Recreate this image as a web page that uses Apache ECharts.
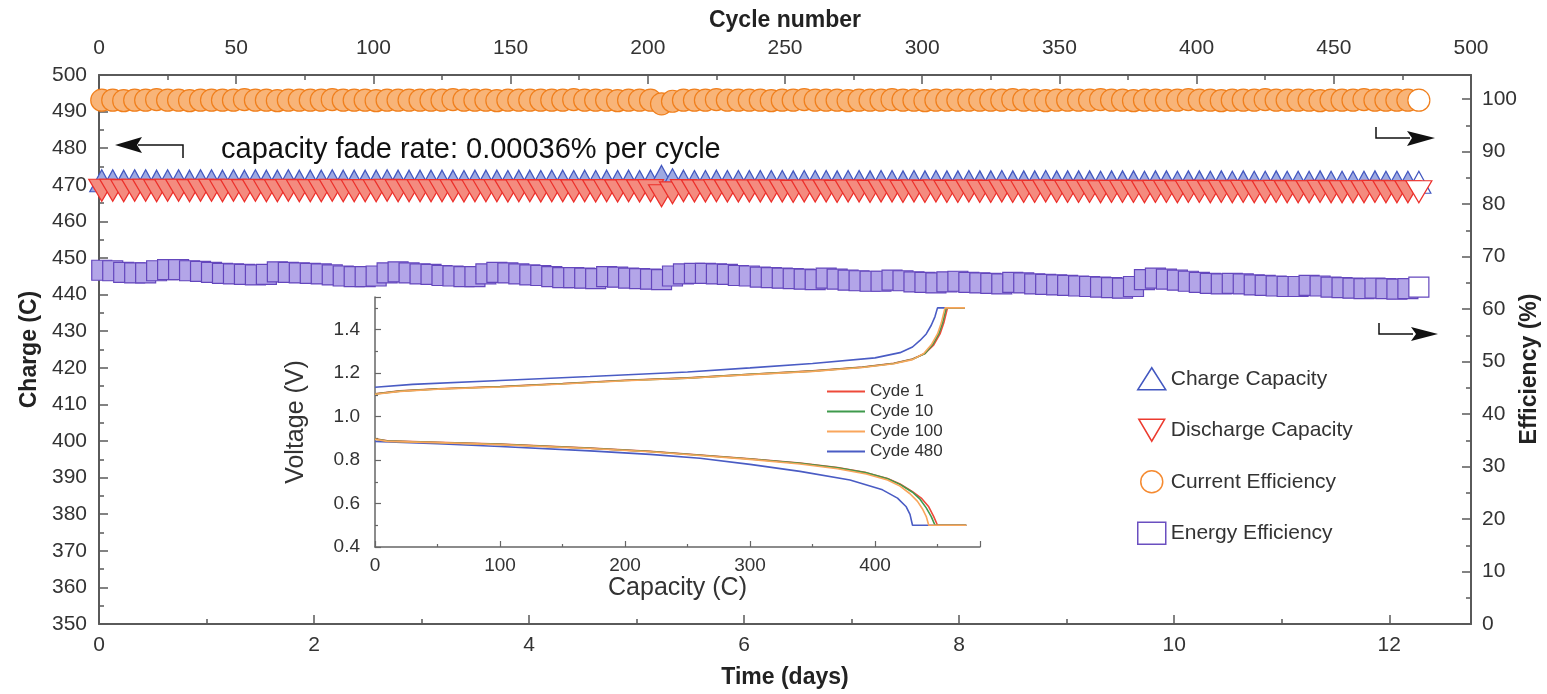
<!DOCTYPE html>
<html><head><meta charset="utf-8">
<script src="https://cdn.jsdelivr.net/npm/echarts@6/dist/echarts.min.js"></script>
<style>html,body{margin:0;padding:0;background:#fff}#c{width:1547px;height:694px}</style>
</head><body><div id="c"></div>
<script>
// ---------- main chart data (sampled every 4 cycles) ----------
const cycles = [1,5,9,13,17,21,25,29,33,37,41,45,49,53,57,61,65,69,73,77,81,85,89,93,97,101,105,109,113,117,
121,125,129,133,137,141,145,149,153,157,161,165,169,173,177,181,185,189,193,197,201,205,209,213,217,221,225,229,233,237,
241,245,249,253,257,261,265,269,273,277,281,285,289,293,297,301,305,309,313,317,321,325,329,333,337,341,345,349,353,357,
361,365,369,373,377,381,385,389,393,397,401,405,409,413,417,421,425,429,433,437,441,445,449,453,457,461,465,469,473,477,481];

const currentEff = [99.8,99.8,99.7,99.8,99.8,99.9,99.8,99.8,99.7,99.8,
99.8,99.8,99.8,99.9,99.8,99.8,99.7,99.8,99.8,99.8,
99.8,99.9,99.8,99.8,99.8,99.7,99.8,99.8,99.8,99.8,
99.8,99.8,99.9,99.8,99.8,99.8,99.7,99.8,99.8,99.8,
99.8,99.8,99.8,99.9,99.8,99.8,99.8,99.7,99.8,99.8,
99.8,99.1,99.6,99.8,99.8,99.8,99.9,99.8,99.8,99.8,
99.8,99.7,99.8,99.8,99.9,99.8,99.8,99.8,99.7,99.8,
99.8,99.8,99.9,99.8,99.8,99.7,99.8,99.8,99.8,99.8,
99.8,99.8,99.8,99.9,99.8,99.8,99.7,99.8,99.8,99.8,
99.8,99.9,99.8,99.8,99.7,99.8,99.8,99.8,99.8,99.9,
99.8,99.8,99.7,99.8,99.8,99.8,99.9,99.8,99.8,99.8,
99.8,99.7,99.8,99.8,99.8,99.9,99.8,99.8,99.8,99.8,
99.8];

const chargeCap = [471.1,471.1,471.0,471.1,471.1,471.0,471.1,471.1,471.0,471.1,
471.1,471.0,471.1,471.0,471.1,471.0,471.0,471.1,471.0,471.0,
471.0,471.1,471.0,471.0,471.0,471.0,471.1,471.0,471.0,471.0,
471.0,471.0,471.0,470.9,471.0,471.0,471.0,470.9,471.0,471.0,
470.9,471.0,471.0,470.9,471.0,470.9,471.0,470.9,471.0,470.9,
471.0,472.3,471.4,471.0,470.9,470.9,471.0,470.9,470.9,470.9,
470.9,470.9,470.9,470.8,470.9,470.9,470.9,470.8,470.9,470.9,
470.8,470.9,470.9,470.8,470.9,470.8,470.9,470.8,470.8,470.9,
470.8,470.8,470.9,470.8,470.8,470.8,470.9,470.8,470.8,470.8,
470.8,470.7,470.8,470.8,470.8,470.7,470.8,470.8,470.7,470.8,
470.8,470.7,470.8,470.7,470.8,470.7,470.7,470.8,470.7,470.7,
470.7,470.8,470.7,470.7,470.7,470.7,470.8,470.7,470.7,470.7,
470.7];

const dischargeCap = [468.5,468.5,468.4,468.5,468.5,468.4,468.5,468.5,468.4,468.5,
468.5,468.4,468.5,468.4,468.5,468.4,468.4,468.5,468.4,468.4,
468.4,468.5,468.4,468.4,468.4,468.4,468.5,468.4,468.4,468.4,
468.4,468.4,468.4,468.3,468.4,468.4,468.4,468.3,468.4,468.4,
468.3,468.4,468.4,468.3,468.4,468.3,468.4,468.3,468.4,468.3,
468.4,467.0,467.8,468.4,468.3,468.3,468.4,468.3,468.3,468.3,
468.3,468.3,468.3,468.2,468.3,468.3,468.3,468.2,468.3,468.3,
468.2,468.3,468.3,468.2,468.3,468.2,468.3,468.2,468.2,468.3,
468.2,468.2,468.3,468.2,468.2,468.2,468.3,468.2,468.2,468.2,
468.2,468.1,468.2,468.2,468.2,468.1,468.2,468.2,468.1,468.2,
468.2,468.1,468.2,468.1,468.2,468.1,468.1,468.2,468.1,468.1,
468.1,468.2,468.1,468.1,468.1,468.1,468.2,468.1,468.1,468.1,
468.1];

const energyEff = [67.4,67.3,67.0,66.9,66.9,67.3,67.5,67.5,67.3,67.2,
67.0,66.8,66.7,66.6,66.5,66.6,67.1,67.0,66.9,66.8,
66.7,66.5,66.3,66.2,66.2,66.3,66.9,67.1,66.9,66.7,
66.6,66.4,66.3,66.2,66.2,66.7,67.0,66.9,66.7,66.5,
66.4,66.2,66.0,66.0,65.9,65.8,66.2,66.1,65.9,65.8,
65.7,65.6,66.3,66.7,66.8,66.8,66.7,66.6,66.4,66.3,
66.1,66.0,65.9,65.8,65.7,65.6,65.9,65.7,65.5,65.4,
65.3,65.3,65.5,65.4,65.2,65.1,65.0,65.2,65.3,65.1,
65.0,64.9,64.8,65.1,65.0,64.8,64.7,64.6,64.5,64.4,
64.3,64.2,64.1,64.0,64.3,65.6,65.9,65.7,65.5,65.3,
65.1,64.9,64.8,64.9,64.8,64.6,64.5,64.4,64.3,64.3,
64.5,64.4,64.2,64.1,64.0,63.9,64.0,63.9,63.8,63.9,
64.2];

// ---------- inset data: [capacity (C), voltage (V)] ----------
const c1Charge = [[0,1.105],[20,1.118],[50,1.128],[100,1.138],[150,1.152],[200,1.167],[250,1.178],[300,1.195],[350,1.21],[390,1.228],[415,1.245],[430,1.265],[440,1.29],[447,1.33],[452,1.38],[455,1.43],[458,1.50],[472,1.50]];
const c10Charge = [[0,1.104],[20,1.117],[50,1.127],[100,1.137],[150,1.151],[200,1.166],[250,1.177],[300,1.194],[350,1.209],[390,1.227],[415,1.244],[430,1.264],[440,1.29],[446,1.33],[451,1.38],[454,1.43],[457,1.50],[472,1.50]];
const c100Charge = [[0,1.103],[20,1.116],[50,1.126],[100,1.136],[150,1.150],[200,1.165],[250,1.176],[300,1.193],[350,1.208],[390,1.226],[415,1.243],[430,1.262],[439,1.29],[445,1.33],[450,1.38],[453,1.43],[456,1.50],[472,1.50]];
const c480Charge = [[0,1.135],[30,1.148],[100,1.166],[172,1.184],[250,1.205],[300,1.224],[350,1.244],[400,1.27],[420,1.294],[430,1.32],[436,1.35],[441,1.38],[445,1.42],[448,1.46],[450,1.50],[472,1.50]];
const c1Discharge = [[0,0.898],[10,0.888],[50,0.882],[100,0.873],[172,0.855],[220,0.84],[260,0.823],[300,0.806],[340,0.786],[370,0.765],[393,0.742],[410,0.715],[420,0.69],[430,0.655],[437,0.625],[443,0.585],[447,0.54],[450,0.50],[473,0.50]];
const c10Discharge = [[0,0.897],[10,0.887],[50,0.881],[100,0.872],[172,0.854],[220,0.839],[260,0.822],[300,0.805],[340,0.785],[370,0.764],[393,0.741],[410,0.714],[420,0.688],[430,0.652],[436,0.62],[441,0.58],[445,0.54],[448,0.50],[473,0.50]];
const c100Discharge = [[0,0.896],[10,0.886],[50,0.880],[100,0.871],[172,0.853],[220,0.838],[260,0.821],[300,0.803],[340,0.782],[370,0.760],[393,0.736],[410,0.708],[420,0.68],[428,0.645],[434,0.61],[438,0.575],[441,0.54],[443,0.50],[473,0.50]];
const c480Discharge = [[0,0.886],[50,0.875],[100,0.862],[172,0.842],[220,0.826],[260,0.808],[300,0.78],[340,0.748],[380,0.708],[406,0.663],[418,0.625],[425,0.585],[428,0.55],[430,0.50],[473,0.50]];

const FONT = 'Liberation Sans, Arial, sans-serif';
const AX = '#5a5a5a';

function pts(ys) {
  return cycles.map((c, i) => i === cycles.length - 1
    ? { value: [c, ys[i]], itemStyle: { color: '#ffffff' } }
    : [c, ys[i]]);
}

const chart = echarts.init(document.getElementById('c'), null, { renderer: 'canvas' });

const mainAxisCommon = {
  axisLine: { show: true, onZero: false, lineStyle: { color: AX, width: 2 } },
  axisTick: { show: true, inside: true, length: 9, lineStyle: { color: AX, width: 1.5 } },
  minorTick: { show: true, splitNumber: 2, length: 5, lineStyle: { color: AX, width: 1.5 } },
  splitLine: { show: false },
  axisLabel: { color: '#333', fontSize: 21, fontFamily: FONT },
  nameTextStyle: { color: '#222', fontSize: 23, fontFamily: FONT, fontWeight: 'bold' }
};
const insetAxisCommon = {
  axisLine: { show: true, onZero: false, lineStyle: { color: '#666', width: 1.5 } },
  axisTick: { show: true, inside: true, length: 6, lineStyle: { color: '#666', width: 1.2 } },
  minorTick: { show: true, splitNumber: 2, length: 3, lineStyle: { color: '#666', width: 1.2 } },
  splitLine: { show: false },
  axisLabel: { color: '#333', fontSize: 19, fontFamily: FONT },
  nameTextStyle: { color: '#333', fontSize: 25, fontFamily: FONT }
};

function scatter(name, data, yIdx, symbol, size, border, fill, rot) {
  return {
    name, type: 'scatter', xAxisIndex: 1, yAxisIndex: yIdx,
    data: pts(data), symbol, symbolSize: size, symbolRotate: rot || 0,
    itemStyle: { color: fill, borderColor: border, borderWidth: 1.2, opacity: 1 },
    emphasis: { disabled: true }, silent: true
  };
}
function line(name, data, color, z) {
  return {
    name, type: 'line', xAxisIndex: 2, yAxisIndex: 2, data, symbol: 'none',
    color, lineStyle: { color, width: 1.6 }, z: z, emphasis: { disabled: true }, silent: true
  };
}

const option = {
  animation: false,
  backgroundColor: '#ffffff',
  grid: [
    { left: 99, right: 76, top: 75, bottom: 68, containLabel: false },
    { left: 375, top: 297, width: 605, height: 250, containLabel: false }
  ],
  xAxis: [
    Object.assign({}, mainAxisCommon, {
      gridIndex: 0, type: 'value', position: 'bottom', min: 0, max: 12.76, interval: 2,
      name: 'Time (days)', nameLocation: 'middle', nameGap: 42,
      axisLabel: Object.assign({}, mainAxisCommon.axisLabel, { margin: 11, showMaxLabel: false })
    }),
    Object.assign({}, mainAxisCommon, {
      gridIndex: 0, type: 'value', position: 'top', min: 0, max: 500, interval: 50,
      name: 'Cycle number', nameLocation: 'middle', nameGap: 43,
      axisLabel: Object.assign({}, mainAxisCommon.axisLabel, { margin: 16 })
    }),
    Object.assign({}, insetAxisCommon, {
      gridIndex: 1, type: 'value', min: 0, max: 484, interval: 100,
      name: 'Capacity (C)', nameLocation: 'middle', nameGap: 26,
      axisLabel: Object.assign({}, insetAxisCommon.axisLabel, { margin: 9, showMaxLabel: false })
    })
  ],
  yAxis: [
    Object.assign({}, mainAxisCommon, {
      gridIndex: 0, type: 'value', position: 'left', min: 350, max: 500, interval: 10,
      name: 'Charge (C)', nameLocation: 'middle', nameGap: 58, nameRotate: 90,
      axisLabel: Object.assign({}, mainAxisCommon.axisLabel, { margin: 12 })
    }),
    Object.assign({}, mainAxisCommon, {
      gridIndex: 0, type: 'value', position: 'right', min: 0, max: 104.6, interval: 10,
      axisLabel: Object.assign({}, mainAxisCommon.axisLabel, { margin: 11, showMaxLabel: false })
    }),
    Object.assign({}, insetAxisCommon, {
      gridIndex: 1, type: 'value', min: 0.4, max: 1.55, interval: 0.2,
      name: 'Voltage (V)', nameLocation: 'middle', nameGap: 66, nameRotate: 90,
      axisLabel: Object.assign({}, insetAxisCommon.axisLabel, { margin: 15, showMaxLabel: false,
        formatter: v => v.toFixed(1) })
    })
  ],
  legend: [
    {
      orient: 'vertical', left: 1132, top: 362, itemWidth: 28, itemHeight: 22, itemGap: 28,
      textStyle: { color: '#333', fontSize: 21, fontFamily: FONT },
      selectedMode: false,
      data: [
        { name: 'Charge Capacity', icon: 'triangle', itemStyle: { color: '#fff', borderColor: '#4257c0', borderWidth: 1.5 } },
        { name: 'Discharge Capacity', icon: 'path://M0,0L20,0L10,17Z', itemStyle: { color: '#fff', borderColor: '#ec3a2e', borderWidth: 1.5 } },
        { name: 'Current Efficiency', icon: 'circle', itemStyle: { color: '#fff', borderColor: '#f58a30', borderWidth: 1.5 } },
        { name: 'Energy Efficiency', icon: 'rect', itemStyle: { color: '#fff', borderColor: '#6a4fc0', borderWidth: 1.5 } }
      ]
    },
    {
      orient: 'vertical', left: 822, top: 378, itemWidth: 38, itemHeight: 2, itemGap: 3,
      icon: 'rect',
      textStyle: { color: '#333', fontSize: 17, fontFamily: FONT, lineHeight: 17 },
      selectedMode: false,
      data: ['Cyde 1', 'Cyde 10', 'Cyde 100', 'Cyde 480']
    }
  ],
  graphic: [
    { type: 'text', x: 221, y: 150, style: { text: 'capacity fade rate: 0.00036% per cycle', fill: '#111', font: '29px ' + FONT, verticalAlign: 'middle' } },
    { type: 'text', x: 1530, y: 369, rotation: Math.PI / 2,
      style: { text: 'Efficiency (%)', fill: '#222', font: 'bold 23px ' + FONT, align: 'center', verticalAlign: 'middle' } },
    { type: 'polyline', shape: { points: [[183, 158], [183, 145], [138, 145]] }, style: { stroke: '#111', lineWidth: 1.5, fill: null } },
    { type: 'polygon', shape: { points: [[115, 145], [142, 137], [137, 145], [142, 153]] }, style: { fill: '#111' } },
    { type: 'polyline', shape: { points: [[1376, 127], [1376, 138], [1410, 138]] }, style: { stroke: '#111', lineWidth: 1.5, fill: null } },
    { type: 'polygon', shape: { points: [[1435, 138], [1407, 131], [1412, 138], [1407, 146]] }, style: { fill: '#111' } },
    { type: 'polyline', shape: { points: [[1379, 323], [1379, 334], [1413, 334]] }, style: { stroke: '#111', lineWidth: 1.5, fill: null } },
    { type: 'polygon', shape: { points: [[1438, 334], [1411, 327], [1416, 334], [1411, 341]] }, style: { fill: '#111' } }
  ],
  series: [
    scatter('Current Efficiency', currentEff, 1, 'circle', 22, '#f07f1c', '#f8b478'),
    scatter('Charge Capacity', chargeCap, 0, 'triangle', [24, 22], '#4257c0', '#9ea9e2'),
    scatter('Discharge Capacity', dischargeCap, 0, 'triangle', [26, 22], '#ec2f2a', '#f48b7f', 180),
    scatter('Energy Efficiency', energyEff, 1, 'rect', 20, '#6447bd', '#b3a5e8'),
    line('Cyde 480', c480Charge, '#4a5cc4', 2), line('Cyde 480', c480Discharge, '#4a5cc4', 2),
    line('Cyde 1', c1Charge, '#ee4a3a', 3), line('Cyde 1', c1Discharge, '#ee4a3a', 3),
    line('Cyde 10', c10Charge, '#3f9a4c', 4), line('Cyde 10', c10Discharge, '#3f9a4c', 4),
    line('Cyde 100', c100Charge, '#f9a65c', 5), line('Cyde 100', c100Discharge, '#f9a65c', 5)
  ]
};
chart.setOption(option);
</script>
</body></html>
